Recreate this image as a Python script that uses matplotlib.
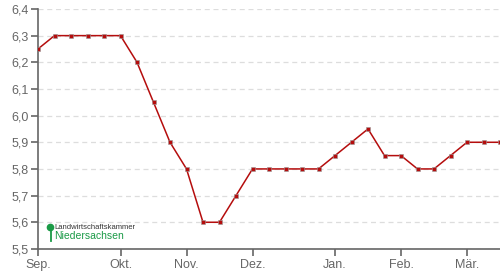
import matplotlib
matplotlib.use('Agg')
import matplotlib.pyplot as plt

# weekly prices, Sep. to Mär.
weeks = list(range(29))
prices = [6.25, 6.30, 6.30, 6.30, 6.30, 6.30, 6.20, 6.05, 5.90, 5.80,
          5.60, 5.60, 5.70, 5.80, 5.80, 5.80, 5.80, 5.80, 5.85, 5.90,
          5.95, 5.85, 5.85, 5.80, 5.80, 5.85, 5.90, 5.90, 5.90]
month_pos = [0, 5, 9, 13, 18, 22, 26]
month_labels = ['Sep.', 'Okt.', 'Nov.', 'Dez.', 'Jan.', 'Feb.', 'Mär.']
y_ticks = [5.5, 5.6, 5.7, 5.8, 5.9, 6.0, 6.1, 6.2, 6.3, 6.4]

plt.rcParams['font.family'] = ['Liberation Sans', 'DejaVu Sans']
axis_col = '#666666'

fig = plt.figure(figsize=(5, 2.8), dpi=100)
ax = fig.add_axes([0.076, 0.111, 0.924, 0.857])

ax.plot(weeks, prices, color='#b50d0d', linewidth=1.1, zorder=3)
ax.plot(weeks, prices, linestyle='none', marker='s', markersize=2.8,
        markerfacecolor='#b50d0d', markeredgecolor='#999999',
        markeredgewidth=0.4, zorder=4)

ax.set_xlim(0, 28)
ax.set_ylim(5.5, 6.4)
ax.set_yticks(y_ticks)
ax.set_yticklabels([f'{v:.1f}'.replace('.', ',') for v in y_ticks])
ax.set_xticks(month_pos)
ax.set_xticklabels(month_labels)

for sp in ['top', 'right']:
    ax.spines[sp].set_visible(False)
for sp in ['left', 'bottom']:
    ax.spines[sp].set_color(axis_col)
    ax.spines[sp].set_linewidth(1.2)

ax.tick_params(axis='both', colors=axis_col, labelcolor=axis_col,
               labelsize=9, length=5, width=1.2, direction='out', pad=2)
ax.grid(axis='y', color='#dddddd', linestyle=(0, (4, 3)), linewidth=0.9)
ax.set_axisbelow(True)

# logo
green = '#1a9a46'
fig.lines.append(plt.Line2D([0.1], [0.19], transform=fig.transFigure,
                            marker='o', markersize=4.5, color=green))
fig.lines.append(plt.Line2D([0.102, 0.102], [0.182, 0.139],
                            transform=fig.transFigure, color=green, linewidth=1.3))
fig.text(0.108, 0.187, 'Landwirtschaftskammer', color='#333333', fontsize=5.5,
         ha='left', va='center')
fig.text(0.109, 0.156, 'Niedersachsen', color=green, fontsize=7.5,
         ha='left', va='center')

plt.savefig('out.png', dpi=100)
